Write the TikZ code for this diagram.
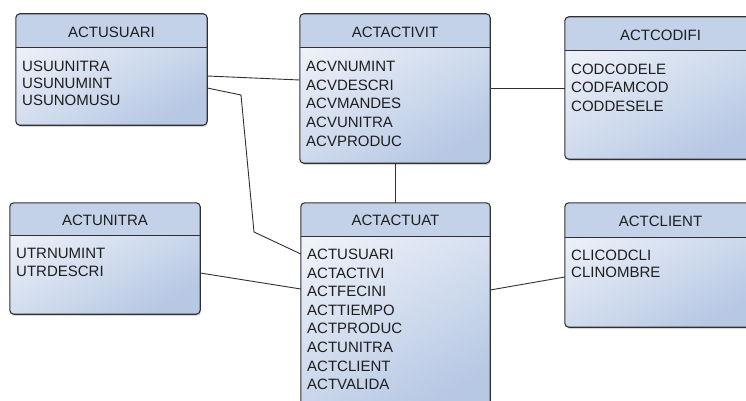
\documentclass[tikz,border=0pt]{standalone}
\usepackage{fontspec}
\setmainfont{Liberation Sans}
\usetikzlibrary{fit,shadows}

\definecolor{edgegray}{HTML}{303030}
\definecolor{headblue}{HTML}{C4D2E9}
\definecolor{bodytop}{HTML}{EEF2F9}
\definecolor{bodybot}{HTML}{B7C8E4}
\definecolor{inkgray}{HTML}{1E1E1E}

\tikzset{
  entity/.style={inner sep=0pt, top color=bodytop, bottom color=bodybot,
    shading angle=30, rounded corners=4pt,
    drop shadow={shadow xshift=0.8pt, shadow yshift=-2pt, opacity=0.3}},
  frame/.style={draw=edgegray, line width=1.1pt, rounded corners=4pt},
  divider/.style={draw=edgegray, line width=1pt},
  headfill/.style={fill=headblue},
  title/.style={font=\fontsize{15}{18}\selectfont, text=inkgray, inner sep=0pt},
  field/.style={font=\fontsize{15}{18}\selectfont, text=inkgray, inner sep=0pt,
    anchor=base west},
  link/.style={draw=edgegray, line width=0.9pt},
}

% table box: name, left, top, right, bottom, header line, title, row step, fields
\newcommand\entitybox[9]{%
  \node[entity, fit={(#2,#3) (#4,#5)}] (#1) {};
  \begin{scope}
    \clip[rounded corners=4pt] (#1.north west) rectangle (#1.south east);
    \fill[headfill] (#1.north west) rectangle (#4,#6);
  \end{scope}
  \draw[divider] (#2,#6) -- (#4,#6);
  \draw[frame] (#1.north west) rectangle (#1.south east);
  \node[title] (#1-title) at ({(#2+#4)/2},{(#3+#6)/2+1}) {#7};
  \foreach \f [count=\i] in {#9}
    \node[field] (#1-\i) at ({#2+6},{#6+23.4+(\i-1)*#8}) {\f};
}

\begin{document}
\begin{tikzpicture}[x=1pt,y=-1pt]
  \useasboundingbox (0,0) rectangle (746,401);
  \fill[white] (0,0) rectangle (746,401);
  \clip (0,0) rectangle (746,401);

  \entitybox{usuari}{16}{14}{207}{125}{48}{ACTUSUARI}{17.2}
    {USUUNITRA,USUNUMINT,USUNOMUSU}
  \entitybox{activit}{300}{14}{490}{163}{48}{ACTACTIVIT}{18.7}
    {ACVNUMINT,ACVDESCRI,ACVMANDES,ACVUNITRA,ACVPRODUC}
  \entitybox{codifi}{565}{17}{756}{159}{51}{ACTCODIFI}{18.3}
    {CODCODELE,CODFAMCOD,CODDESELE}
  \entitybox{unitra}{10}{203}{200}{314}{235}{ACTUNITRA}{18}
    {UTRNUMINT,UTRDESCRI}
  \entitybox{actuat}{301}{203}{490}{412}{236}{ACTACTUAT}{18.6}
    {ACTUSUARI,ACTACTIVI,ACTFECINI,ACTTIEMPO,ACTPRODUC,ACTUNITRA,ACTCLIENT,ACTVALIDA}
  \entitybox{client}{565}{203}{756}{327}{237}{ACTCLIENT}{17}
    {CLICODCLI,CLINOMBRE}

  % relationships
  \coordinate (bendA) at (241,95);
  \coordinate (bendB) at (254,232);
  \draw[link] (usuari.east |- 0,76) -- (activit.west |- 0,80);
  \draw[link] (usuari.east |- 0,88) -- (bendA) -- (bendB) -- (actuat.west |- 0,254);
  \draw[link] (unitra.east |- 0,273) -- (actuat.west |- 0,289);
  \draw[link] (activit.east |- 0,88) -- (codifi.west |- 0,88);
  \draw[link] (activit.south) -- (activit.south |- actuat.north);
  \draw[link] (actuat.east |- 0,290) -- (client.west |- 0,277);
\end{tikzpicture}
\end{document}
